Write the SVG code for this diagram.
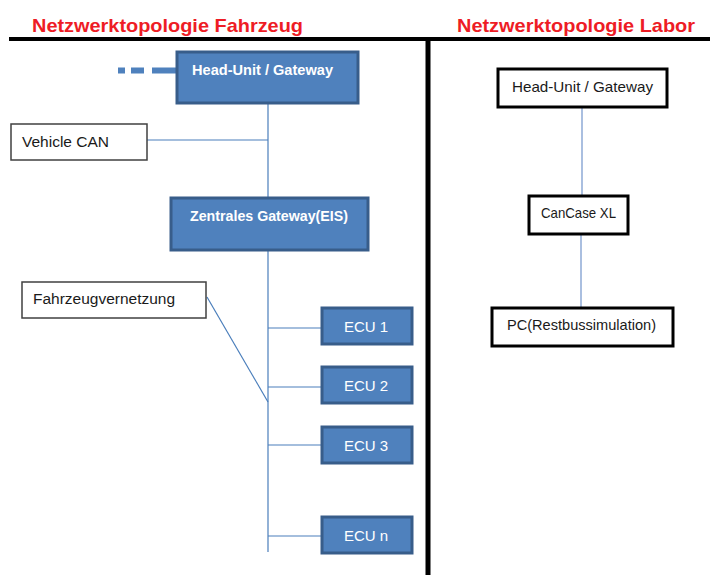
<svg xmlns="http://www.w3.org/2000/svg" width="710" height="575" viewBox="0 0 710 575">
  <style>
    text { font-family: "Liberation Sans", Arial, sans-serif; }
    .title { fill: #ee1c25; font-size: 19px; font-weight: bold; }
    .blue rect { fill: #4f81bd; stroke: #385d8a; stroke-width: 3; }
    .blue text { fill: #ffffff; font-size: 15px; text-anchor: middle; }
    .blue text.b { font-weight: bold; font-size: 14px; }
    .note rect { fill: #ffffff; stroke: #404040; stroke-width: 1.5; }
    .note text { fill: #1a1a1a; font-size: 15.5px; }
    .lab rect { fill: #ffffff; stroke: #000000; stroke-width: 3; }
    .lab text { fill: #1a1a1a; font-size: 14.5px; text-anchor: middle; }
    .wire { stroke: #4a7ebb; stroke-width: 1.2; fill: none; }
    .wire2 { stroke: #8eaad6; stroke-width: 1.5; fill: none; }
  </style>

  <!-- headings and separators -->
  <text class="title" x="32" y="32" textLength="271" lengthAdjust="spacingAndGlyphs">Netzwerktopologie Fahrzeug</text>
  <text class="title" x="457" y="32" textLength="238" lengthAdjust="spacingAndGlyphs">Netzwerktopologie Labor</text>
  <line x1="9" y1="39" x2="710" y2="39" stroke="#000" stroke-width="4"/>
  <line x1="428" y1="39" x2="428" y2="575" stroke="#000" stroke-width="5"/>

  <!-- connectors -->
  <g id="connectors">
    <path d="M118 70.5 H177" stroke="#4f81bd" stroke-width="6" stroke-dasharray="7 6 13 8 40" fill="none"/>
    <line class="wire" x1="268" y1="103" x2="268" y2="198"/>
    <line class="wire" x1="147" y1="140" x2="268" y2="140"/>
    <line class="wire" x1="268" y1="250" x2="268" y2="552"/>
    <line class="wire" x1="207" y1="297" x2="268" y2="402"/>
    <line class="wire" x1="268" y1="328" x2="322" y2="328"/>
    <line class="wire" x1="268" y1="387" x2="322" y2="387"/>
    <line class="wire" x1="268" y1="445" x2="322" y2="445"/>
    <line class="wire" x1="268" y1="536" x2="322" y2="536"/>
    <line class="wire2" x1="582" y1="107" x2="582" y2="196"/>
    <line class="wire2" x1="581" y1="234" x2="581" y2="308"/>
  </g>

  <!-- vehicle topology -->
  <g id="head-unit" class="blue">
    <rect x="177" y="52" width="181" height="51"/>
    <text class="b" x="262.5" y="75" textLength="141" lengthAdjust="spacingAndGlyphs">Head-Unit / Gateway</text>
  </g>
  <g id="vehicle-can" class="note">
    <rect x="11" y="124" width="136" height="36"/>
    <text x="22" y="147" textLength="87" lengthAdjust="spacingAndGlyphs">Vehicle CAN</text>
  </g>
  <g id="zentrales-gateway" class="blue">
    <rect x="171" y="198" width="197" height="52"/>
    <text class="b" x="269" y="221" textLength="158" lengthAdjust="spacingAndGlyphs">Zentrales Gateway(EIS)</text>
  </g>
  <g id="fahrzeugvernetzung" class="note">
    <rect x="22" y="282" width="184" height="36"/>
    <text x="33" y="304" textLength="142" lengthAdjust="spacingAndGlyphs">Fahrzeugvernetzung</text>
  </g>
  <g id="ecu1" class="blue">
    <rect x="322" y="308" width="90" height="36"/>
    <text x="366" y="332">ECU 1</text>
  </g>
  <g id="ecu2" class="blue">
    <rect x="322" y="367" width="90" height="36"/>
    <text x="366" y="391">ECU 2</text>
  </g>
  <g id="ecu3" class="blue">
    <rect x="322" y="427" width="90" height="36"/>
    <text x="366" y="451">ECU 3</text>
  </g>
  <g id="ecun" class="blue">
    <rect x="322" y="517" width="90" height="36"/>
    <text x="366" y="541">ECU n</text>
  </g>

  <!-- lab topology -->
  <g id="lab-head-unit" class="lab">
    <rect x="498" y="69" width="169" height="38"/>
    <text x="582.5" y="92" textLength="141" lengthAdjust="spacingAndGlyphs">Head-Unit / Gateway</text>
  </g>
  <g id="cancase" class="lab">
    <rect x="529" y="196" width="99" height="38"/>
    <text x="578.5" y="218" textLength="75" lengthAdjust="spacingAndGlyphs">CanCase XL</text>
  </g>
  <g id="pc" class="lab">
    <rect x="492" y="308" width="181" height="38"/>
    <text x="581.5" y="330" textLength="149" lengthAdjust="spacingAndGlyphs">PC(Restbussimulation)</text>
  </g>
</svg>
